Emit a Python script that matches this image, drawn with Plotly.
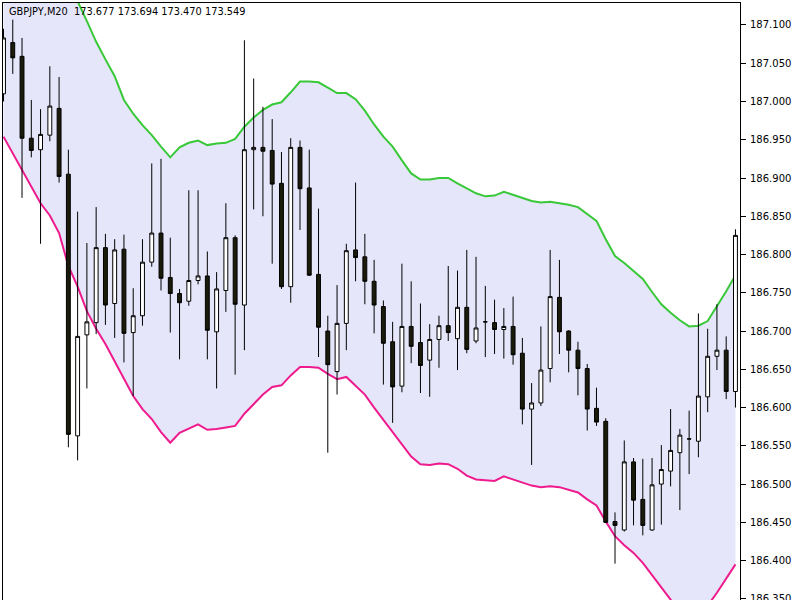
import plotly.graph_objects as go

idx = list(range(80))

opens = [187.010, 187.077, 187.059, 186.952, 186.937, 186.956, 186.991, 186.905, 186.563, 186.695,
         186.711, 186.809, 186.736, 186.807, 186.698, 186.720, 186.790, 186.828, 186.770, 186.749,
         186.739, 186.766, 186.772, 186.699, 186.753, 186.822, 186.734, 186.937, 186.940, 186.936,
         186.893, 186.758, 186.940, 186.887, 186.774, 186.700, 186.647, 186.710, 186.806, 186.797,
         186.765, 186.732, 186.686, 186.628, 186.706, 186.685, 186.662, 186.689, 186.707, 186.690,
         186.731, 186.687, 186.712, 186.711, 186.702, 186.706, 186.671, 186.598, 186.606, 186.651,
         186.744, 186.700, 186.675, 186.651, 186.599, 186.582, 186.451, 186.440, 186.529, 186.480,
         186.440, 186.500, 186.517, 186.541, 186.559, 186.556, 186.614, 186.667, 186.675, 186.621]
highs = [187.095, 187.107, 187.083, 187.002, 186.990, 187.046, 187.032, 186.937, 186.856, 186.815,
         186.862, 186.827, 186.820, 186.826, 186.756, 186.820, 186.919, 186.925, 186.822, 186.755,
         186.884, 186.884, 186.804, 186.777, 186.867, 186.825, 187.080, 187.030, 186.993, 186.977,
         186.934, 186.952, 186.949, 186.937, 186.860, 186.720, 186.760, 186.814, 186.894, 186.827,
         186.793, 186.740, 186.712, 186.788, 186.765, 186.736, 186.709, 186.720, 186.785, 186.779,
         186.806, 186.797, 186.759, 186.741, 186.730, 186.745, 186.691, 186.632, 186.706, 186.806,
         186.793, 186.701, 186.686, 186.657, 186.626, 186.586, 186.463, 186.557, 186.534, 186.533,
         186.534, 186.551, 186.598, 186.572, 186.596, 186.723, 186.703, 186.735, 186.693, 186.833]
lows = [187.000, 187.036, 186.874, 186.927, 186.814, 186.948, 186.894, 186.548, 186.531, 186.625,
        186.696, 186.708, 186.691, 186.659, 186.615, 186.707, 186.784, 186.753, 186.698, 186.663,
        186.733, 186.761, 186.663, 186.625, 186.725, 186.643, 186.675, 186.859, 186.850, 186.788,
        186.755, 186.737, 186.832, 186.772, 186.666, 186.541, 186.617, 186.675, 186.765, 186.735,
        186.697, 186.630, 186.580, 186.620, 186.658, 186.619, 186.614, 186.652, 186.687, 186.649,
        186.671, 186.684, 186.666, 186.670, 186.664, 186.656, 186.578, 186.525, 186.602, 186.633,
        186.670, 186.646, 186.616, 186.570, 186.576, 186.449, 186.396, 186.438, 186.446, 186.433,
        186.439, 186.447, 186.497, 186.466, 186.513, 186.535, 186.594, 186.649, 186.611, 186.600]
closes = [187.083, 187.057, 186.952, 186.936, 186.957, 186.994, 186.902, 186.565, 186.693, 186.712,
          186.809, 186.734, 186.806, 186.697, 186.720, 186.790, 186.828, 186.769, 186.749, 186.737,
          186.766, 186.772, 186.701, 186.755, 186.822, 186.735, 186.937, 186.940, 186.935, 186.892,
          186.758, 186.940, 186.886, 186.773, 186.705, 186.656, 186.710, 186.805, 186.796, 186.765,
          186.734, 186.684, 186.627, 186.706, 186.680, 186.655, 186.689, 186.707, 186.698, 186.731,
          186.676, 186.704, 186.712, 186.702, 186.706, 186.669, 186.598, 186.606, 186.649, 186.745,
          186.699, 186.675, 186.651, 186.598, 186.581, 186.450, 186.446, 186.529, 186.479, 186.446,
          186.499, 186.519, 186.544, 186.564, 186.559, 186.615, 186.667, 186.675, 186.621, 186.825]

upper_band = [187.328, 187.302, 187.276, 187.250, 187.224, 187.198, 187.174, 187.151, 187.131, 187.105,
              187.078, 187.055, 187.033, 187.002, 186.984, 186.969, 186.956, 186.941, 186.927, 186.940,
              186.946, 186.949, 186.943, 186.945, 186.946, 186.951, 186.967, 186.979, 186.989, 186.996,
              186.999, 187.012, 187.026, 187.026, 187.025, 187.018, 187.011, 187.011, 187.003, 186.988,
              186.970, 186.954, 186.941, 186.923, 186.906, 186.898, 186.898, 186.900, 186.900, 186.893,
              186.886, 186.880, 186.876, 186.877, 186.882, 186.878, 186.874, 186.870, 186.868, 186.869,
              186.867, 186.865, 186.862, 186.853, 186.844, 186.820, 186.798, 186.789, 186.779, 186.768,
              186.751, 186.735, 186.724, 186.714, 186.706, 186.707, 186.713, 186.732, 186.752, 186.773]
lower_band = [186.954, 186.932, 186.910, 186.888, 186.867, 186.851, 186.828, 186.785, 186.758, 186.726,
              186.703, 186.683, 186.660, 186.636, 186.615, 186.598, 186.585, 186.568, 186.554, 186.567,
              186.573, 186.578, 186.571, 186.572, 186.574, 186.576, 186.592, 186.605, 186.617, 186.627,
              186.629, 186.642, 186.653, 186.653, 186.652, 186.644, 186.637, 186.640, 186.629, 186.617,
              186.600, 186.584, 186.568, 186.552, 186.536, 186.526, 186.525, 186.527, 186.526, 186.520,
              186.511, 186.506, 186.505, 186.504, 186.510, 186.506, 186.502, 186.498, 186.496, 186.497,
              186.496, 186.493, 186.489, 186.480, 186.472, 186.451, 186.432, 186.420, 186.410, 186.397,
              186.381, 186.365, 186.349, 186.336, 186.328, 186.329, 186.341, 186.358, 186.377, 186.395]

tick_vals = [186.35, 186.40, 186.45, 186.50, 186.55, 186.60, 186.65, 186.70, 186.75,
             186.80, 186.85, 186.90, 186.95, 187.00, 187.05, 187.10]
header = "GBPJPY,M20  173.677 173.694 173.470 173.549"

y_range = [186.3485, 187.1287]

fig = go.Figure()
fig.add_trace(go.Scatter(x=idx, y=upper_band, mode="lines", line=dict(width=0, color="rgba(0,0,0,0)"),
                         hoverinfo="skip", showlegend=False))
fig.add_trace(go.Scatter(x=idx, y=lower_band, mode="lines", line=dict(width=0, color="rgba(0,0,0,0)"),
                         fill="tonexty", fillcolor="#E6E6FA", hoverinfo="skip", showlegend=False))
fig.add_trace(go.Scatter(x=idx, y=upper_band, mode="lines", line=dict(width=2, color="#38C838"),
                         hoverinfo="skip", showlegend=False))
fig.add_trace(go.Scatter(x=idx, y=lower_band, mode="lines", line=dict(width=2, color="#EE1A8E"),
                         hoverinfo="skip", showlegend=False))
fig.add_trace(go.Candlestick(
    x=idx, open=opens, high=highs, low=lows, close=closes, yaxis="y2",
    increasing=dict(line=dict(color="#000000", width=1), fillcolor="#FFFFFF"),
    decreasing=dict(line=dict(color="#000000", width=1), fillcolor="#1B1B0B"),
    whiskerwidth=0, hoverinfo="skip", showlegend=False))

fig.update_layout(
    template="none",
    width=800, height=600,
    margin=dict(l=3, r=60, t=3, b=0, autoexpand=False),
    paper_bgcolor="white", plot_bgcolor="white",
    boxgap=0.4,
    showlegend=False,
    xaxis=dict(range=[-0.054, 79.49], showgrid=False, zeroline=False, showticklabels=False,
               ticks="", showline=True, linecolor="black", linewidth=1, mirror=True,
               rangeslider=dict(visible=False), automargin=False, fixedrange=True),
    yaxis=dict(range=y_range, side="right", tickvals=tick_vals, tickformat=".3f",
               showgrid=False, zeroline=False, ticks="outside", ticklen=5, tickcolor="black",
               showline=True, linecolor="black", linewidth=1, mirror=True, ticklabelstandoff=2,
               ticklabeloverflow="allow",
               tickfont=dict(family="DejaVu Sans", size=10, color="black"), automargin=False),
    yaxis2=dict(range=y_range, overlaying="y", side="right", visible=False, showgrid=False,
                zeroline=False, automargin=False),
    annotations=[dict(text=header, xref="paper", yref="paper", x=0, y=1, xanchor="left",
                      yanchor="top", xshift=4, yshift=-1, showarrow=False,
                      font=dict(family="DejaVu Sans", size=9.8, color="black"))],
)

fig.write_html("out.html", config={"displayModeBar": False},
               post_script="document.body.style.margin='0';document.body.style.padding='0';")
